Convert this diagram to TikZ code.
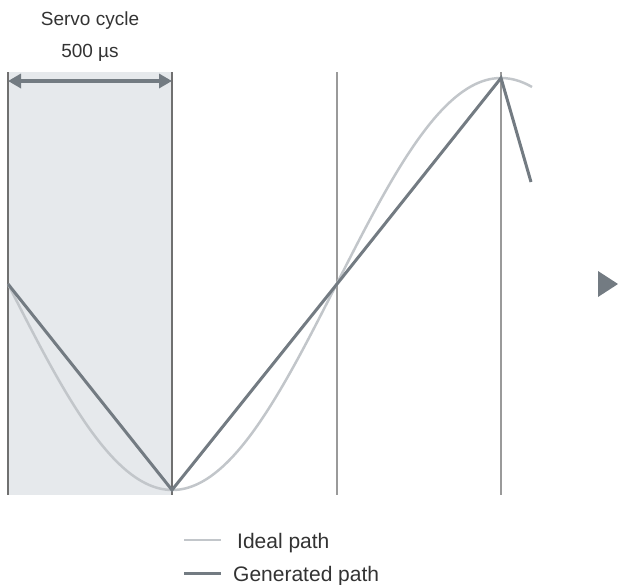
\documentclass[tikz,border=0pt]{standalone}
\usepackage{fontspec}
\setmainfont{Liberation Sans}
\usepackage{tikz}
\usetikzlibrary{arrows.meta,calc}
\definecolor{cyclebg}{HTML}{E6E9EC}
\definecolor{idealc}{HTML}{C2C6CA}
\definecolor{genc}{HTML}{737B82}
\definecolor{gridd}{HTML}{707070}
\definecolor{gridl}{HTML}{9A9A9A}

\begin{document}
\begin{tikzpicture}[x=1pt, y=-1pt,
	ideal/.style = {idealc, line width=2.5pt},
	generated/.style = {genc, line width=3pt, line join=miter},
	label/.style = {inner sep=0, anchor=base west, text=black!80}]
	\useasboundingbox (0,0) rectangle (618,584);
	\fill[cyclebg] (8,72) rectangle (172,495);
	% sample instants
	\foreach \x/\c in {8/gridd, 172/gridd, 337/gridl, 501/gridl} \draw[\c, line width=1.1pt] (\x,72) -- (\x,495);
	\node[inner sep=0, anchor=base, font=\fontsize{19}{19}\selectfont, text=black!80] (title) at (90,25) {Servo cycle};
	\node[inner sep=0, anchor=base, font=\fontsize{19}{19}\selectfont, text=black!80] (period) at (90,57) {500 µs};
	\coordinate (A0) at (8,81);
	\coordinate (A1) at (172,81);
	\draw[genc, line width=4pt, {Triangle[length=13pt,width=14pt]}-{Triangle[length=13pt,width=14pt]}] (A0) -- (A1);
	\draw[ideal] plot[domain=8:532, samples=120, smooth] (\x, {284+206*sin((\x-8)/164.33*90)});
	\coordinate (P0) at (8,284);
	\coordinate (P1) at (172,490);
	\coordinate (P2) at (337,284);
	\coordinate (P3) at (501,78);
	\coordinate (P4) at (531,182);
	\draw[generated] (P0) -- (P1) -- (P2) -- (P3) -- (P4);
	\fill[genc] (598,271) -- (618,284) -- (598,297) -- cycle;
	% legend
	\coordinate (L1a) at (184,540);
	\coordinate (L1b) at (221,540);
	\coordinate (L2a) at (184,573);
	\coordinate (L2b) at (221,573);
	\draw[ideal] (L1a) -- (L1b);
	\draw[generated] (L2a) -- (L2b);
	\node[label, font=\fontsize{21}{21}\selectfont] (ideallab) at (237,548) {Ideal path};
	\node[label, font=\fontsize{21}{21}\selectfont] (genlab) at (233,581) {Generated path};
\end{tikzpicture}
\end{document}
